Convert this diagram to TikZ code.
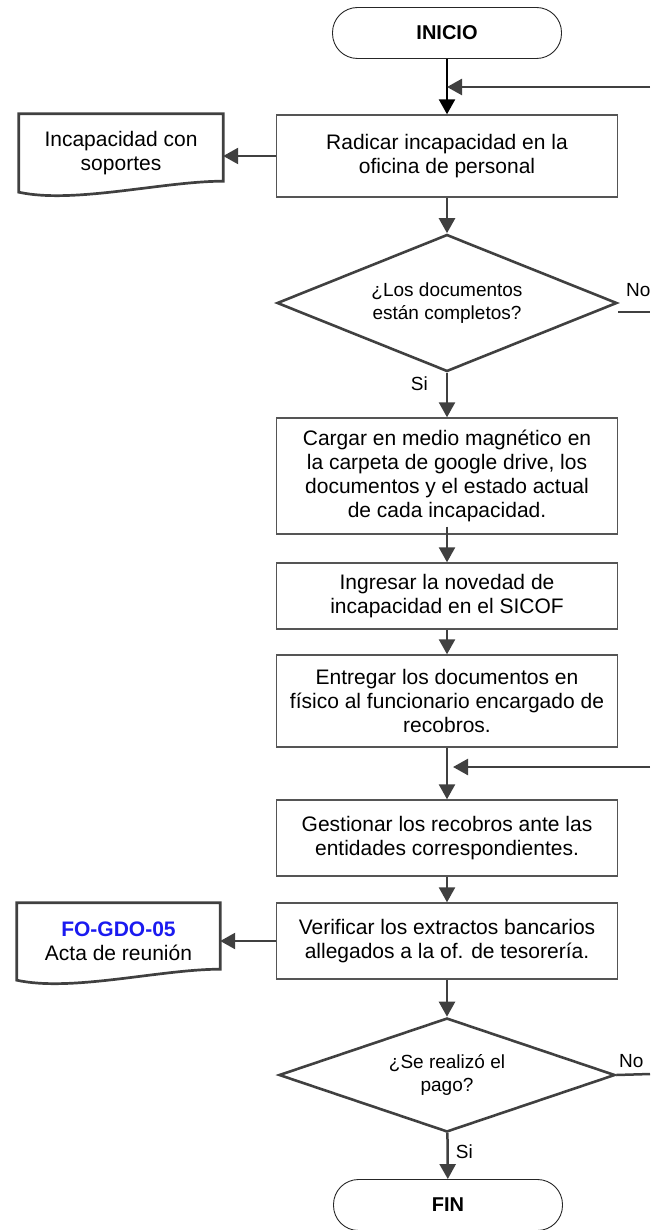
\documentclass[tikz,border=0pt]{standalone}
\usepackage{fontspec}
\setmainfont{Liberation Sans}
\usetikzlibrary{shapes.geometric,arrows.meta}
\definecolor{linegray}{HTML}{404040}
\definecolor{boxgray}{HTML}{555555}
\definecolor{codeblue}{HTML}{1A1AF0}

\begin{document}
\begin{tikzpicture}
[x=1pt,y=-1pt%
,every node/.style={inner sep=0pt,%
	align=center,%
	text=black,%
	font=\fontsize{21}{24}\selectfont}%
,term/.style={draw=black!85,line width=0.9pt,%
	rounded corners=25pt,%
	minimum width=229pt,minimum height=51pt,%
	font=\fontsize{20}{24}\selectfont\bfseries}%
,proc/.style={draw=boxgray,line width=1.4pt,minimum width=341pt}%
,decision/.style={diamond,draw=linegray,line width=2.6pt,%
	minimum width=340pt,aspect=2.5,%
	font=\fontsize{19}{22.5}\selectfont}%
,docum/.style={minimum width=204pt}%
,docline/.style={draw=linegray,line width=2.7pt}%
,flow/.style={draw=linegray,line width=2.5pt,%
	-{Triangle[length=15pt,width=16pt]}}%
,bareline/.style={draw=linegray,line width=2.5pt}%
,tag/.style={font=\fontsize{19}{22}\selectfont}]
\useasboundingbox (0,0) rectangle (650,1230);

% main column
\node[term] (inicio) at (447,33) {INICIO};
\node[proc,minimum height=82pt] (radicar) at (447,156)
	{Radicar incapacidad en la\\oficina de personal};
\node[decision,minimum height=137pt] (docsok) at (447,303)
	{¿Los documentos\\están completos?};
\node[proc,minimum height=116pt] (cargar) at (447,476)
	{Cargar en medio magnético en\\la carpeta de google drive, los\\documentos y el estado actual\\de cada incapacidad.};
\node[proc,minimum height=66pt] (ingresar) at (447,596)
	{Ingresar la novedad de\\incapacidad en el SICOF};
\node[proc,minimum height=92pt] (entregar) at (447,701)
	{Entregar los documentos en\\físico al funcionario encargado de\\recobros.};
\node[proc,minimum height=76pt] (gestionar) at (447,838)
	{Gestionar los recobros ante las\\entidades correspondientes.};
\node[proc,minimum height=76pt] (verificar) at (447,941)
	{Verificar los extractos bancarios\\allegados a la of. de tesorería.};
\node[decision,minimum height=114pt,minimum width=336pt,aspect=3] (pago) at (447,1075)
	{¿Se realizó el\\pago?};
\node[term] (fin) at (448,1205) {FIN};

% documents
\node[docum,minimum height=78pt] (soportes) at (121,153)
	{Incapacidad con\\soportes};
\draw[docline] (soportes.north west) -- (soportes.north east)
	-- ([yshift=11pt]soportes.south east)
	.. controls +(-60,0) and +(55,12) .. (soportes.south west) -- cycle;
\node[docum,minimum width=203pt,minimum height=77pt] (acta) at (118.5,941.5)
	{\textcolor{codeblue}{\bfseries FO-GDO-05}\\Acta de reunión};
\draw[docline] (acta.north west) -- (acta.north east)
	-- ([yshift=11pt]acta.south east)
	.. controls +(-60,0) and +(55,12) .. (acta.south west) -- cycle;

% connectors
\coordinate (backA) at (650,87);
\coordinate (backB) at (650,767);
\coordinate (noA) at (650,312);
\coordinate (noB) at (650,1074);
\draw[flow,draw=black] (inicio) -- (radicar);
\draw[flow] (backA) -- (backA -| radicar.north);
\draw[flow] (radicar.west) -- (radicar.west -| soportes.east);
\draw[flow] (radicar) -- (docsok);
\draw[flow] (docsok) -- node[tag,pos=0.25,left=18pt] (siA) {Si} (cargar);
\draw[bareline] (noA -| docsok.east) -- (noA);
\node[tag,anchor=base west] (noAlbl) at (626,297) {No};
\draw[flow] ([yshift=8pt]cargar.south) -- (ingresar);
\draw[flow] (ingresar) -- (entregar);
\draw[flow] (entregar) -- (gestionar);
\draw[flow,shorten >=6pt] (backB) -- (backB -| gestionar.north);
\draw[flow] (gestionar) -- (verificar);
\draw[flow] (verificar.west) -- (verificar.west -| acta.east);
\draw[flow] (verificar) -- (pago);
\draw[bareline] (pago.east) -- (noB);
\node[tag,anchor=base west] (noBlbl) at (619,1067) {No};
\draw[flow] (pago) -- node[tag,pos=0.4,right=7pt] (siB) {Si} (fin);
\end{tikzpicture}
\end{document}
